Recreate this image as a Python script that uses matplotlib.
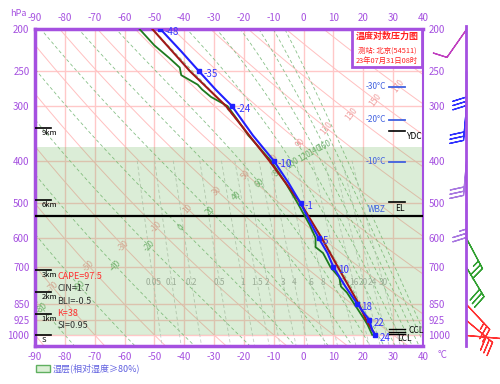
import numpy as np
import matplotlib.pyplot as plt
from matplotlib.patches import Rectangle

plt.rcParams['font.family'] = ['Noto Sans CJK SC', 'DejaVu Sans']

# ---- sounding data ----
temp_p = [1000, 975, 925, 850, 775, 700, 650, 600, 550, 500, 450, 400, 350, 300, 275, 250, 225, 200]
temp_t = [24, 23, 22, 18, 14, 10, 8, 5, 2, -1, -5, -10, -17, -24, -29.5, -35, -41, -48]

dew_p = [1000, 950, 925, 850, 800, 775, 740, 700, 650, 630, 600, 560, 500, 450, 400, 350, 320, 300,
         286, 275, 268, 255, 245, 233, 218, 200]
dew_t = [23, 21.5, 20.5, 17, 14.5, 12.5, 12, 9, 6.5, 4, 4, 2, -2, -6, -11, -18.5, -22.5, -25.5,
         -31, -34, -35.5, -41, -41.5, -45, -50, -55]

parcel_p = [1000, 925, 850, 700, 600, 500, 400, 300, 250, 200]
parcel_t = [24, 21, 18.5, 11.5, 6, -1, -11.5, -26, -38, -50.7]

std_levels = [200, 250, 300, 400, 500, 600, 700, 850, 925, 1000]

# wind (direction deg, speed)
wind_p = [200, 250, 300, 400, 500, 600, 700, 850, 925, 1000]
wind_dir = [215, 180, 185, 185, 180, 152, 149, 137, 130, 95]
wind_spd = [10, 30, 30, 30, 25, 25, 30, 25, 30, 10]
wind_col = ['#c040c0', '#3030ff', '#3030ff', '#a878e0', '#a878e0', '#30a030', '#30a030',
            '#ff3030', '#ff3030', '#ff3030']

# annotation levels
height_p = [337, 491, 710, 797, 895, 1000]
height_lab = ['9km', '6km', '3km', '2km', '1km', 'S']
iso_p = [271, 322, 402]
iso_lab = ['-30°C', '-20°C', '-10°C']
indices = ['CAPE=97.5', 'CIN=1.7', 'BLI=-0.5', 'K=38', 'SI=0.95']
indices_col = ['#ff3030', '#333333', '#333333', '#ff3030', '#333333']
indices_p = [737, 785, 838, 893, 954]
moist_top, moist_bot = 372, 1000
zero_line_p = 534

mix_ratios = [0.05, 0.1, 0.2, 0.5, 1, 1.5, 2, 3, 4, 6, 8, 12, 16, 20, 24, 30]

purple = '#a550e0'
pink = '#ffc8c8'

fig = plt.figure(figsize=(5, 3.84), dpi=100)
ax = fig.add_axes([35/500, 1-346/384, 388/500, 317/384])
ax.set_yscale('log')
ax.set_xlim(-90, 40)
ax.set_ylim(1060, 200)

xt = np.arange(-90, 41, 10)
ax.set_xticks(xt)
ax.set_xticklabels([str(t) for t in xt])
ax.set_yticks(std_levels)
ax.set_yticklabels([str(p) for p in std_levels])
ax.minorticks_off()
ax.tick_params(length=0, labelsize=7, labelcolor=purple)
ax.tick_params(axis='x', pad=4, labeltop=True)
ax.tick_params(axis='y', pad=4, labelright=True)
for s in ['left', 'bottom', 'top']:
    ax.spines[s].set_color(purple)
    ax.spines[s].set_linewidth(2.5)
ax.spines['right'].set_color(purple)
ax.spines['right'].set_linewidth(1.5)

# grid
for t in xt[1:-1]:
    ax.axvline(t, color=pink, lw=1, zorder=1)
for p in std_levels[1:]:
    ax.axhline(p, color=pink, lw=1, zorder=1)

P = np.geomspace(190, 1100, 300)


def place_labels(curves, a, b, color):
    A = ax.transData.transform(a)
    B = ax.transData.transform(b)
    d = B - A
    n = np.array([-d[1], d[0]])
    inv = ax.transData.inverted()
    for val, T, PP in curves:
        pts = ax.transData.transform(np.column_stack([T, PP]))
        s = (pts - A) @ n
        idx = np.where(np.sign(s[:-1]) != np.sign(s[1:]))[0]
        if len(idx) == 0:
            continue
        i = idx[0]
        f = s[i] / (s[i] - s[i+1])
        q = pts[i] + f * (pts[i+1] - pts[i])
        dd = pts[i+1] - pts[i]
        ang = np.degrees(np.arctan2(dd[1], dd[0])) + 90
        tq, pq = inv.transform(q)
        if not (-88 < tq < 38 and 215 < pq < 1040):
            continue
        ax.text(tq, pq, f'{val:g}', color=color, fontsize=6, rotation=ang,
                rotation_mode='anchor', ha='center', va='center', zorder=2)


# dry adiabats
dry = []
for th in range(-90, 240, 20):
    T = (th + 273.15) * (P / 1000) ** 0.2857 - 273.15
    ax.plot(T, P, color='#ffc0c0', lw=0.7, zorder=1)
    dry.append((th, T, P))
place_labels(dry, (-88, 805), (36, 260), '#f0a0a0')

# moist adiabats (theta-se)
Tg = np.linspace(-120, 45, 1651)
moist = []
levels_se = list(range(-80, 220, 20))
Tse = np.zeros((len(levels_se), len(P)))
for j, p in enumerate(P):
    es = 6.112 * np.exp(17.67 * Tg / (Tg + 243.5))
    ws = 0.622 * es / (p - es)
    th = (Tg + 273.15) * (1000 / p) ** 0.2857 * np.exp(2.5e6 * ws / (1004 * (Tg + 273.15))) - 273.15
    Tse[:, j] = np.interp(levels_se, th, Tg)
for k, lv in enumerate(levels_se):
    ax.plot(Tse[k], P, color='#88c088', lw=0.6, ls=(0, (4, 3)), zorder=1)
    if lv <= 160:
        moist.append((lv, Tse[k], P))
place_labels(moist, (-87, 863), (12, 352), '#70b070')

# saturation mixing ratio lines
Pm = np.geomspace(400, 1100, 100)
for w in mix_ratios:
    es = w * Pm / (622 + w)
    x = np.log(es / 6.112)
    T = 243.5 * x / (17.67 - x)
    ax.plot(T, Pm, color='#c4cac4', lw=0.6, ls=(0, (4, 3)), zorder=1)
    e7 = w * 757 / (622 + w)
    x7 = np.log(e7 / 6.112)
    ax.text(243.5 * x7 / (17.67 - x7), 757, f'{w:g}', color='#a8a8a8', fontsize=6,
            ha='center', va='center', zorder=2)

# moist layer
ax.axhspan(moist_bot, moist_top, color='#73b861', alpha=0.25, lw=0, zorder=2)
ax.axhline(zero_line_p, color='k', lw=1.6, zorder=3)

# curves
ax.plot(dew_t, dew_p, color='#1e7a1e', lw=1.3, zorder=4)
ax.plot(parcel_t, parcel_p, color='#a01818', lw=1.5, zorder=5)
ax.plot(temp_t, temp_p, color='#2020ff', lw=1.5, zorder=6)
for p, t in zip(temp_p, temp_t):
    if p in std_levels:
        ax.plot(t, p, 's', ms=3.5, color='#2020ff', zorder=7)
        ax.annotate(f'{t:g}', (t, p), xytext=(3, -2), textcoords='offset points',
                    color='#3535ff', fontsize=7, va='center', zorder=7)

# height markers (left)
yt = ax.get_yaxis_transform()
for p, lab in zip(height_p, height_lab):
    ax.plot([0, 0.042], [p, p], color='k', lw=1.2, transform=yt, zorder=6)
    ax.text(0.017, p * 1.028, lab, transform=yt, fontsize=5.5, color='k', va='center', zorder=6)

for p, lab, c in zip(indices_p, indices, indices_col):
    ax.text(0.058, p, lab, transform=yt, fontsize=6.5, color=c, va='center', zorder=6)

# right markers
for p, lab in zip(iso_p, iso_lab):
    ax.plot([0.912, 0.954], [p, p], color='#4060e0', lw=1.3, transform=yt, zorder=6)
    ax.text(0.905, p, lab, transform=yt, fontsize=6, color='#4060e0', ha='right', va='center', zorder=6)
ax.text(0.905, 518, 'WBZ', transform=yt, fontsize=6, color='#4060e0', ha='right', va='center', zorder=6)
ax.plot([0.912, 0.954], [342, 342], color='k', lw=1.2, transform=yt, zorder=6)
ax.text(0.959, 353, 'YDC', transform=yt, fontsize=6, color='k', va='center', zorder=6)
ax.plot([0.912, 0.954], [496, 496], color='k', lw=1.2, transform=yt, zorder=6)
ax.text(0.94, 513, 'EL', transform=yt, fontsize=6, color='k', ha='center', va='center', zorder=6)
for p in [969, 984, 995]:
    ax.plot([0.912, 0.954], [p, p], color='k', lw=1.0, transform=yt, zorder=6)
ax.text(0.962, 979, 'CCL', transform=yt, fontsize=6, color='k', va='center', zorder=6)
ax.text(0.933, 1018, 'LCL', transform=yt, fontsize=6, color='k', va='center', zorder=6)

# title box
fig.patches.append(Rectangle((352/500, 1-67/384), 70/500, 38/384, transform=fig.transFigure,
                             facecolor='white', edgecolor=purple, lw=2, zorder=10))
fig.text(387/500, 1-36/384, '温度对数压力图', color='#ff2020', fontsize=6.5, fontweight='bold',
         ha='center', va='center', zorder=11)
fig.text(387/500, 1-51/384, '测站: 北京(54511)', color='#ff2020', fontsize=5.3, ha='center', va='center', zorder=11)
fig.text(387/500, 1-61/384, '23年07月31日08时', color='#ff2020', fontsize=5.3, ha='center', va='center', zorder=11)

fig.text(18/500, 1-14/384, 'hPa', color=purple, fontsize=6.5, ha='center', va='center')
fig.text(443/500, 1-355/384, '°C', color=purple, fontsize=7, ha='center', va='center')

# legend
fig.patches.append(Rectangle((36/500, 1-372/384), 14/500, 7/384, transform=fig.transFigure,
                             facecolor='#dcefd6', edgecolor='#60b060', lw=1))
fig.text(53/500, 1-368/384, '湿层(相对湿度≥80%)', color='#6060e0', fontsize=6.5, va='center')

# wind panel
ax2 = fig.add_axes([423/500, 1-346/384, 77/500, 317/384])
ax2.set_yscale('log')
ax2.set_ylim(1060, 200)
ax2.set_xlim(0, 77)
ax2.axis('off')
ax2.plot([43, 43], [197, 1060], color=purple, lw=2, clip_on=False)
for p, d, s, c in zip(wind_p, wind_dir, wind_spd, wind_col):
    u = -s * np.sin(np.radians(d))
    v = -s * np.cos(np.radians(d))
    ax2.barbs([43], [p], [u], [v], length=7, color=c, lw=0.9, clip_on=False)

fig.savefig('out.png', dpi=100)
